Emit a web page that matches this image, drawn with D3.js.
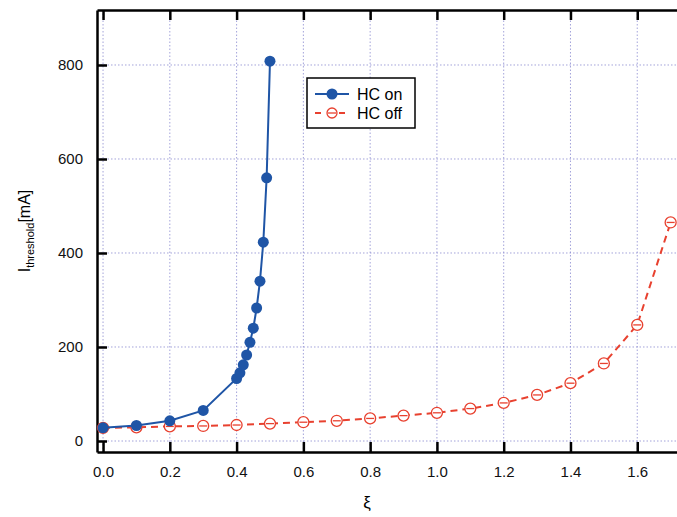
<!DOCTYPE html>
<html><head><meta charset="utf-8">
<script src="https://cdn.jsdelivr.net/npm/d3@7"></script>
<style>body{margin:0;background:#fff}text{font-family:"Liberation Sans",Arial,sans-serif}</style>
</head><body><svg id="c" width="677" height="517"></svg>
<script>
var xiOn = [0,0.1,0.2,0.3,0.4,0.41,0.42,0.43,0.44,0.45,0.46,0.47,0.48,0.49,0.5];
var iOn = [28,33,43,65,133,145,162,183,210,240,283,340,423,560,808];
var xiOff = [0,0.1,0.2,0.3,0.4,0.5,0.6,0.7,0.8,0.9,1.0,1.1,1.2,1.3,1.4,1.5,1.6,1.7];
var iOff = [28,29,31,32,34,37,40,43,48,54,60,69,81,98,123,165,247,465];
var xTicks = [0,0.2,0.4,0.6,0.8,1.0,1.2,1.4,1.6];
var yTicks = [0,200,400,600,800];

var svg = d3.select('#c');
var L = 97, R = 690, T = 10, B = 452;
var x = d3.scaleLinear().domain([-0.0181, 1.758]).range([L, R]);
var y = d3.scaleLinear().domain([-23.4, 917]).range([B, T]);
var blue = '#1f55a6', red = '#e8412f';

// grid
svg.append('g').selectAll('line').data(xTicks).enter().append('line')
  .attr('x1', x).attr('x2', x).attr('y1', T).attr('y2', B)
  .attr('stroke', '#8c8cd0').attr('stroke-width', 0.8).attr('stroke-dasharray', '1.5,2');
svg.append('g').selectAll('line').data(yTicks).enter().append('line')
  .attr('y1', y).attr('y2', y).attr('x1', L).attr('x2', R)
  .attr('stroke', '#8c8cd0').attr('stroke-width', 0.8).attr('stroke-dasharray', '1.5,2');

// axes (inward ticks)
var xa = svg.append('g').attr('transform', 'translate(0,' + B + ')')
  .call(d3.axisBottom(x).tickValues(xTicks).tickFormat(d3.format('.1f')).tickSizeInner(-10).tickSizeOuter(0).tickPadding(14));
var xt = svg.append('g').attr('transform', 'translate(0,' + T + ')')
  .call(d3.axisTop(x).tickValues(xTicks).tickFormat('').tickSizeInner(-10).tickSizeOuter(0));
var ya = svg.append('g').attr('transform', 'translate(' + L + ',0)')
  .call(d3.axisLeft(y).tickValues(yTicks).tickSizeInner(-10).tickSizeOuter(0).tickPadding(14));
[xa, xt, ya].forEach(function(g){
  g.select('.domain').attr('stroke-width', 2.5);
  g.selectAll('.tick line').attr('stroke-width', 2.5);
  g.selectAll('text').attr('font-size', 15).attr('fill', '#111');
});

// lines
var line = d3.line().x(function(d){return x(d[0]);}).y(function(d){return y(d[1]);});
var on = xiOn.map(function(v,i){return [v, iOn[i]];});
var off = xiOff.map(function(v,i){return [v, iOff[i]];});
svg.append('path').datum(off).attr('d', line).attr('fill','none').attr('stroke',red).attr('stroke-width',2).attr('stroke-dasharray','7,5');
svg.selectAll('.offc').data(off).enter().append('g').each(function(d){
  var g = d3.select(this);
  g.append('circle').attr('cx', x(d[0])).attr('cy', y(d[1])).attr('r', 5.5).attr('fill','#fff').attr('stroke',red).attr('stroke-width',1.3);
  g.append('line').attr('x1', x(d[0])-4).attr('x2', x(d[0])+4).attr('y1', y(d[1])).attr('y2', y(d[1])).attr('stroke',red).attr('stroke-width',1.3);
});
svg.append('path').datum(on).attr('d', line).attr('fill','none').attr('stroke',blue).attr('stroke-width',2);
svg.selectAll('.onc').data(on).enter().append('circle')
  .attr('cx', function(d){return x(d[0]);}).attr('cy', function(d){return y(d[1]);}).attr('r', 5.5).attr('fill', blue);

// legend
var lg = svg.append('g').attr('transform','translate(307,78)');
lg.append('rect').attr('width',108).attr('height',50).attr('fill','#fff').attr('stroke','#000').attr('stroke-width',1.5);
lg.append('line').attr('x1',8).attr('x2',42).attr('y1',16).attr('y2',16).attr('stroke',blue).attr('stroke-width',2);
lg.append('circle').attr('cx',25).attr('cy',16).attr('r',5.5).attr('fill',blue);
lg.append('text').attr('x',50).attr('y',22).attr('font-size',16).text('HC on');
lg.append('line').attr('x1',8).attr('x2',42).attr('y1',35).attr('y2',35).attr('stroke',red).attr('stroke-width',2).attr('stroke-dasharray','6,6');
lg.append('circle').attr('cx',25).attr('cy',35).attr('r',5).attr('fill','#fff').attr('stroke',red).attr('stroke-width',1.3);
lg.append('line').attr('x1',21).attr('x2',29).attr('y1',35).attr('y2',35).attr('stroke',red).attr('stroke-width',1.3);
lg.append('text').attr('x',50).attr('y',41).attr('font-size',16).text('HC off');

// axis labels
svg.append('text').attr('x', 367).attr('y', 508).attr('text-anchor','middle').attr('font-size',17).text('ξ');
var yl = svg.append('text').attr('transform','translate(30,' + ((T+B)/2) + ') rotate(-90)').attr('text-anchor','middle').attr('font-size',16);
yl.append('tspan').text('I');
yl.append('tspan').attr('font-size',11).attr('dy',4).text('threshold');
yl.append('tspan').attr('dy',-4).text('[mA]');
</script></body></html>
